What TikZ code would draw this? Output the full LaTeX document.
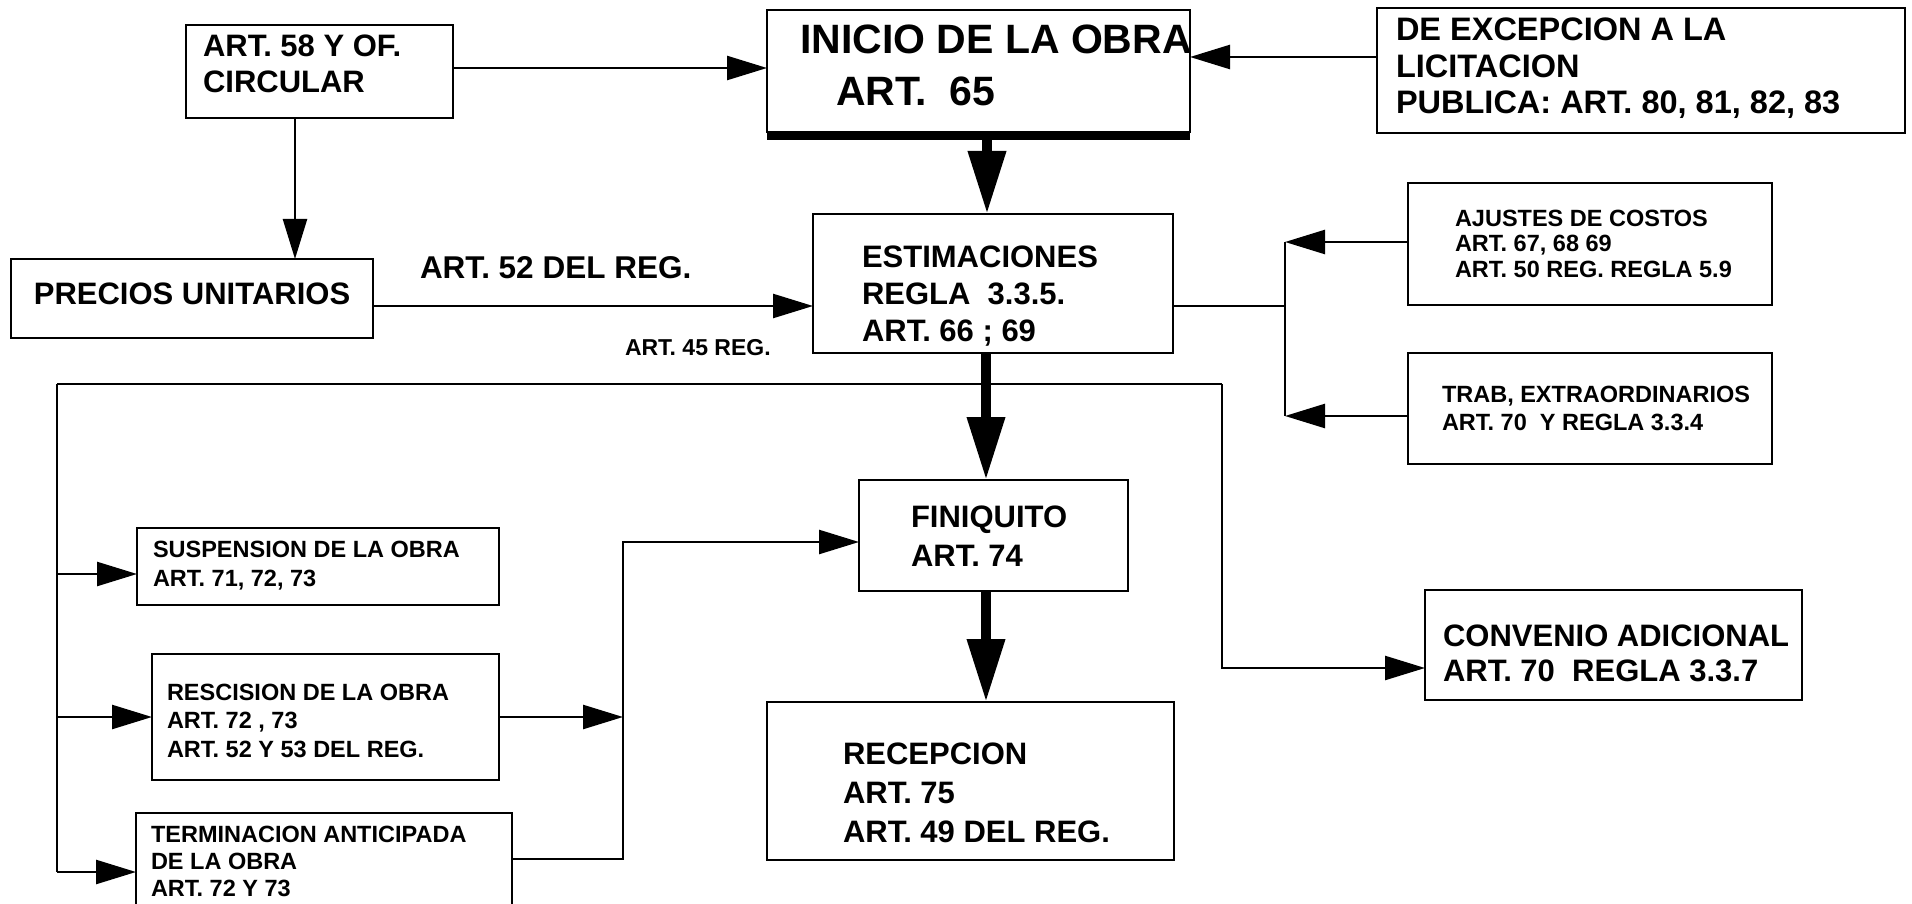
\documentclass[tikz,border=0pt]{standalone}
\usepackage{fontspec}
\setmainfont{Liberation Sans}
\usetikzlibrary{arrows.meta}
\begin{document}
\begin{tikzpicture}[x=1pt,y=-1pt,
  box/.style={draw, line width=2.8pt, rectangle, inner sep=0pt, outer sep=0pt, anchor=north west},
  txt/.style 2 args={inner sep=0pt, outer sep=0pt, align=left, anchor=base west, font=\bfseries\fontsize{#1}{#2}\selectfont},
  conn/.style={line width=2.5pt},
  arr/.style={line width=2.5pt, -{Triangle[length=40pt,width=24pt]}},
  thickarr/.style={line width=10pt, -{Triangle[length=63pt,width=36pt]}}]
\useasboundingbox (0,0) rectangle (1912,904);
\fill[white] (0,0) rectangle (1912,904);
\clip (0,0) rectangle (1912,904);

% boxes (text nodes are anchored at the baseline of their last line)
\node[box, minimum width=267pt, minimum height=93pt] (art58) at (186,25) {};
\node[txt={31}{36}] (art58t) at (203,93) {ART. 58 Y OF.\\CIRCULAR};

\node[box, minimum width=423pt, minimum height=122pt] (inicio) at (767,10) {};
\draw[line width=8pt] ([yshift=-4pt]inicio.south west) -- ([yshift=-4pt]inicio.south east);
\node[txt={41}{52}] (iniciot) at (800,106) {INICIO DE LA OBRA\\\hspace*{36pt}ART.~~65};

\node[box, minimum width=528pt, minimum height=125pt] (excep) at (1377,8) {};
\node[txt={32.5}{36.5}] (except) at (1396,114) {DE EXCEPCION A LA\\LICITACION\\PUBLICA: ART. 80, 81, 82, 83};

\node[box, minimum width=362pt, minimum height=79pt] (precios) at (11,259) {};
\node[txt={31}{36}, anchor=base] (preciost) at (192,305) {PRECIOS UNITARIOS};

\node[box, minimum width=360pt, minimum height=139pt] (estim) at (813,214) {};
\node[txt={31}{37}] (estimt) at (862,341) {ESTIMACIONES\\REGLA~~3.3.5.\\ART. 66 ; 69};

\node[box, minimum width=364pt, minimum height=122pt] (ajustes) at (1408,183) {};
\node[txt={23.5}{25.5}] (ajustest) at (1455,277) {AJUSTES DE COSTOS\\ART. 67, 68 69\\ART. 50 REG. REGLA 5.9};

\node[box, minimum width=364pt, minimum height=111pt] (trab) at (1408,353) {};
\node[txt={23.5}{28}] (trabt) at (1442,430) {TRAB, EXTRAORDINARIOS\\ART. 70~~Y REGLA 3.3.4};

\node[box, minimum width=269pt, minimum height=111pt] (finiq) at (859,480) {};
\node[txt={31}{39}] (finiqt) at (911,566) {FINIQUITO\\ART. 74};

\node[box, minimum width=407pt, minimum height=158pt] (recep) at (767,702) {};
\node[txt={31}{39}] (recept) at (843,842) {RECEPCION\\ART. 75\\ART. 49 DEL REG.};

\node[box, minimum width=377pt, minimum height=110pt] (conv) at (1425,590) {};
\node[txt={31}{35}] (convt) at (1443,681) {CONVENIO ADICIONAL\\ART. 70~~REGLA 3.3.7};

\node[box, minimum width=362pt, minimum height=77pt] (susp) at (137,528) {};
\node[txt={23.5}{29}] (suspt) at (153,586) {SUSPENSION DE LA OBRA\\ART. 71, 72, 73};

\node[box, minimum width=347pt, minimum height=126pt] (resc) at (152,654) {};
\node[txt={23.5}{28.5}] (resct) at (167,757) {RESCISION DE LA OBRA\\ART. 72 , 73\\ART. 52 Y 53 DEL REG.};

\node[box, minimum width=376pt, minimum height=120pt] (term) at (136,813) {};
\node[txt={23.5}{27}] (termt) at (151,896) {TERMINACION ANTICIPADA\\DE LA OBRA\\ART. 72 Y 73};

% free labels
\node[txt={31.5}{36}] (l52) at (420,278) {ART. 52 DEL REG.};
\node[txt={23}{27}] (l45) at (625,355) {ART. 45 REG.};

% junction coordinates
\coordinate (jr0) at (1285,306);
\coordinate (jr1) at (1285,242);
\coordinate (jr2) at (1285,416);
\coordinate (tl) at (57,384);
\coordinate (tr) at (1222,384);
\coordinate (bl) at (57,872);
\coordinate (jm) at (623,717);
\coordinate (jt) at (623,542);

% connectors
\draw[arr] (art58.east |- 0,68) -- (inicio.west |- 0,68);
\draw[arr] (excep.west |- 0,57) -- (inicio.east |- 0,57);
\draw[arr] (art58.south -| 295,0) -- (precios.north -| 295,0);
\draw[arr] (precios.east |- 0,306) -- (estim.west |- 0,306);

\draw[conn] (estim.east |- jr0) -- (jr0);
\draw[conn] (jr1) -- (jr2);
\draw[arr] (ajustes.west |- jr1) -- (jr1);
\draw[arr] (trab.west |- jr2) -- (jr2);

\draw[conn] (tl) -- (tr);
\draw[arr] (tr) |- (conv.west |- 0,668);
\draw[conn] (tl) -- (bl);
\draw[arr] (tl |- 0,574) -- (susp.west |- 0,574);
\draw[arr] (tl |- jm) -- (resc.west |- jm);
\draw[arr] (bl) -- (term.west |- bl);
\draw[arr] (resc.east |- jm) -- (jm);
\draw[arr] (term.east |- 0,859) -| (jt) -- (finiq.west |- jt);

\draw[thickarr] (inicio.south -| 987,0) -- (estim.north -| 987,0);
\draw[thickarr] (estim.south -| 986,0) -- (finiq.north -| 986,0);
\draw[thickarr] (finiq.south -| 986,0) -- (recep.north -| 986,0);
\end{tikzpicture}
\end{document}
